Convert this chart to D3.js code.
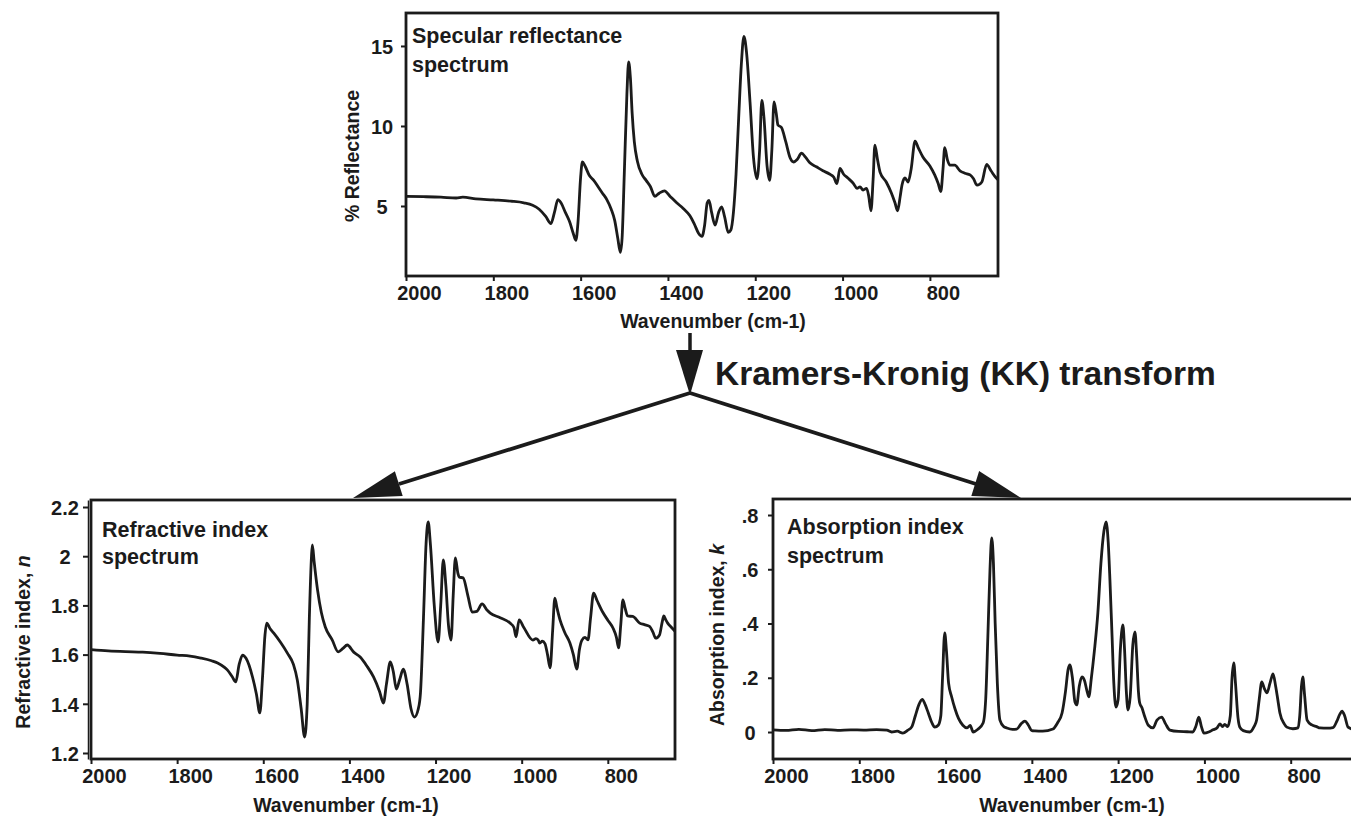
<!DOCTYPE html>
<html>
<head>
<meta charset="utf-8">
<script src="https://cdn.jsdelivr.net/npm/d3@7"></script>
<style>
  body { margin: 0; background: #fff; }
  svg { display: block; font-family: "Liberation Sans", Arial, Helvetica, sans-serif; font-weight: bold; }
</style>
</head>
<body>
<svg id="fig" width="1351" height="818"></svg>
<script>
// Wavenumber ticks shared by the three spectra (cm-1)
const wavenumberTicks = [2000, 1800, 1600, 1400, 1200, 1000, 800];
const reflectanceTicks = [5, 10, 15];
const refractiveTicks = [1.2, 1.4, 1.6, 1.8, 2, 2.2];
const absorptionTicks = [0, 0.2, 0.4, 0.6, 0.8];

// Specular reflectance spectrum: [wavenumber, % reflectance]
const reflectance = [
  [2000,5.6],[1960,5.58],[1920,5.55],[1885,5.5],[1870,5.55],[1840,5.45],[1800,5.38],[1760,5.3],
  [1730,5.2],[1710,5.05],[1695,4.8],[1680,4.35],[1668,3.9],[1660,4.6],[1652,5.4],[1645,5.2],
  [1635,4.6],[1625,4.0],[1617,3.3],[1611,2.85],[1606,4.0],[1600,6.8],[1596,7.75],[1590,7.5],
  [1580,6.9],[1570,6.6],[1560,6.2],[1550,5.8],[1540,5.4],[1530,4.8],[1522,4.1],[1515,3.0],
  [1509,2.1],[1505,3.0],[1500,7.0],[1494,12.0],[1490,14.0],[1486,13.0],[1482,10.8],[1477,9.0],
  [1470,7.8],[1460,7.0],[1450,6.6],[1440,6.2],[1430,5.6],[1420,5.8],[1408,5.95],[1395,5.6],
  [1380,5.2],[1365,4.85],[1350,4.4],[1340,3.9],[1330,3.3],[1322,3.1],[1316,3.8],[1310,5.2],
  [1306,5.35],[1300,4.6],[1292,3.8],[1284,4.6],[1277,4.95],[1270,4.3],[1262,3.35],[1256,3.5],
  [1250,4.6],[1244,7.0],[1238,10.5],[1232,13.8],[1226,15.6],[1220,14.6],[1212,11.5],[1204,8.0],
  [1196,6.7],[1190,8.5],[1185,11.6],[1180,10.5],[1173,7.5],[1167,6.6],[1162,8.5],[1157,11.5],
  [1152,10.8],[1148,10.06],[1140,9.9],[1130,9.0],[1120,8.0],[1112,7.75],[1104,7.9],[1094,8.3],
  [1085,8.05],[1075,7.7],[1060,7.45],[1045,7.2],[1030,7.0],[1020,6.8],[1013,6.4],[1006,7.35],
  [998,7.0],[988,6.75],[975,6.4],[967,6.1],[960,6.2],[953,6.0],[945,6.1],[940,5.6],[935,4.7],
  [930,6.7],[926,8.8],[920,7.9],[914,7.1],[900,6.5],[888,5.8],[880,5.2],[874,4.7],[868,5.6],
  [864,6.3],[857,6.75],[850,6.5],[843,7.3],[834,9.05],[826,8.6],[816,8.06],[800,7.5],[789,6.94],
  [781,6.4],[775,5.9],[770,7.3],[766,8.65],[760,7.9],[754,7.55],[743,7.55],[731,7.2],[720,7.05],
  [708,6.94],[700,6.7],[692,6.3],[681,6.5],[670,7.6],[660,7.2],[648,6.75],[644,6.65]
];

// Refractive index spectrum: [wavenumber, n]
const refractive = [
  [2000,1.62],[1960,1.615],[1920,1.612],[1880,1.61],[1840,1.605],[1800,1.598],[1770,1.594],
  [1745,1.586],[1720,1.575],[1706,1.566],[1690,1.548],[1683,1.537],[1672,1.51],[1664,1.489],
  [1656,1.56],[1648,1.598],[1640,1.585],[1625,1.509],[1616,1.44],[1608,1.363],[1602,1.5],
  [1596,1.68],[1592,1.728],[1584,1.705],[1576,1.688],[1560,1.65],[1544,1.606],[1530,1.56],
  [1521,1.497],[1512,1.38],[1504,1.265],[1498,1.4],[1493,1.75],[1488,2.0],[1486,2.046],
  [1482,1.98],[1474,1.863],[1465,1.77],[1456,1.712],[1440,1.66],[1426,1.611],[1415,1.625],
  [1405,1.639],[1390,1.61],[1375,1.59],[1360,1.555],[1344,1.509],[1330,1.45],[1321,1.403],
  [1314,1.48],[1305,1.57],[1298,1.53],[1291,1.46],[1283,1.5],[1275,1.541],[1266,1.48],
  [1257,1.38],[1249,1.346],[1240,1.38],[1235,1.444],[1228,1.75],[1222,2.05],[1217,2.139],
  [1212,2.05],[1203,1.8],[1194,1.651],[1188,1.8],[1182,1.985],[1176,1.88],[1170,1.72],
  [1164,1.659],[1159,1.84],[1154,1.993],[1148,1.93],[1145,1.915],[1136,1.912],[1125,1.84],
  [1115,1.773],[1104,1.776],[1092,1.806],[1080,1.78],[1073,1.769],[1050,1.75],[1027,1.728],
  [1018,1.71],[1013,1.672],[1006,1.741],[995,1.71],[974,1.659],[967,1.665],[962,1.66],
  [958,1.647],[952,1.655],[946,1.645],[940,1.6],[934,1.546],[928,1.7],[923,1.83],[918,1.79],
  [911,1.741],[900,1.69],[888,1.647],[880,1.6],[872,1.541],[866,1.62],[860,1.659],[853,1.67],
  [846,1.66],[840,1.75],[833,1.85],[825,1.82],[812,1.773],[800,1.74],[788,1.708],[780,1.67],
  [775,1.627],[770,1.72],[765,1.822],[760,1.79],[754,1.757],[742,1.755],[726,1.728],[715,1.722],
  [703,1.715],[695,1.69],[689,1.667],[680,1.68],[674,1.73],[670,1.757],[665,1.74],[661,1.728],
  [652,1.71],[644,1.695]
];

// Absorption index spectrum: [wavenumber, k]
const absorption = [
  [2000,0.008],[1970,0.006],[1940,0.01],[1910,0.005],[1880,0.009],[1850,0.006],[1820,0.008],
  [1790,0.007],[1760,0.009],[1736,0.007],[1725,0.0],[1712,0.003],[1699,-0.004],[1688,0.006],
  [1678,0.02],[1670,0.06],[1662,0.1],[1654,0.12],[1647,0.1],[1640,0.07],[1632,0.035],
  [1625,0.018],[1617,0.025],[1611,0.06],[1607,0.2],[1602,0.365],[1598,0.3],[1593,0.18],
  [1586,0.13],[1578,0.085],[1570,0.05],[1560,0.025],[1550,0.015],[1543,0.024],[1536,0.0],
  [1525,0.01],[1513,0.033],[1507,0.12],[1502,0.35],[1497,0.6],[1493,0.716],[1489,0.62],
  [1485,0.4],[1480,0.18],[1474,0.044],[1465,0.02],[1458,0.015],[1445,0.01],[1435,0.011],
  [1425,0.03],[1416,0.04],[1408,0.025],[1400,0.005],[1393,0.004],[1375,0.003],[1351,0.011],
  [1340,0.035],[1330,0.07],[1322,0.15],[1316,0.23],[1312,0.247],[1306,0.2],[1300,0.11],
  [1296,0.1],[1290,0.17],[1284,0.203],[1278,0.19],[1272,0.15],[1268,0.13],[1262,0.2],
  [1255,0.3],[1247,0.439],[1240,0.62],[1233,0.74],[1228,0.775],[1223,0.7],[1219,0.56],
  [1214,0.35],[1210,0.18],[1205,0.092],[1200,0.12],[1195,0.3],[1189,0.395],[1185,0.3],
  [1181,0.15],[1177,0.081],[1172,0.13],[1166,0.32],[1161,0.369],[1157,0.28],[1153,0.15],
  [1150,0.107],[1145,0.09],[1138,0.055],[1130,0.025],[1119,0.015],[1110,0.044],[1099,0.055],
  [1090,0.03],[1080,0.007],[1060,0.002],[1040,0.001],[1027,0.0],[1020,0.02],[1013,0.055],
  [1007,0.02],[1001,-0.004],[990,0.0],[980,0.008],[971,0.015],[964,0.03],[958,0.02],
  [953,0.028],[946,0.02],[940,0.06],[936,0.2],[932,0.255],[928,0.18],[922,0.05],[918,0.018],
  [910,0.005],[895,0.0],[885,0.02],[879,0.044],[873,0.12],[867,0.185],[861,0.16],[855,0.144],
  [848,0.18],[841,0.214],[835,0.17],[829,0.11],[825,0.07],[815,0.03],[809,0.018],[795,0.012],
  [783,0.015],[779,0.06],[775,0.17],[772,0.203],[768,0.14],[762,0.044],[751,0.026],[740,0.02],
  [732,0.015],[715,0.014],[702,0.016],[693,0.04],[686,0.066],[681,0.077],[675,0.06],
  [667,0.018],[655,0.01],[644,0.008]
];

const INK = "#1b1b1b";
const svg = d3.select("#fig");

const fmtK = d => d === 0 ? "0" : d3.format(".1f")(d).replace(/^0/, "");

const panels = [
  {
    data: reflectance, box: {x: 406, y: 13, w: 592, h: 263},
    yDomain: [0.625, 17.06], yTicks: reflectanceTicks, yFmt: d => String(d),
    yAxisShift: 0, yLabelX: -24,
    title: ["Specular reflectance", "spectrum"], titleX: 412, titleY: [43, 72],
    xLabel: {x: 713, y: 328}, yLabel: {x: 352, y: 156, parts: [["% Reflectance", false]]}
  },
  {
    data: refractive, box: {x: 91, y: 500, w: 584, h: 259},
    yDomain: [1.1756, 2.2285], yTicks: refractiveTicks, yFmt: d => String(d),
    yAxisShift: -3, yLabelX: -26,
    title: ["Refractive index", "spectrum"], titleX: 102, titleY: [537, 564],
    xLabel: {x: 346, y: 812}, yLabel: {x: 23, y: 642, parts: [["Refractive index, ", false], ["n", true]]}
  },
  {
    data: absorption, box: {x: 773, y: 499, w: 585, h: 260},
    yDomain: [-0.0995, 0.859], yTicks: absorptionTicks, yFmt: fmtK,
    yAxisShift: 0, yLabelX: -23,
    title: ["Absorption index", "spectrum"], titleX: 787, titleY: [534, 563],
    xLabel: {x: 1072, y: 812}, yLabel: {x: 717, y: 635, parts: [["Absorption index, ", false], ["k", true]]}
  }
];

panels.forEach(p => {
  const b = p.box;
  const x = d3.scaleLinear().domain([2000, 644]).range([b.x, b.x + b.w]);
  const y = d3.scaleLinear().domain(p.yDomain).range([b.y + b.h, b.y]);
  const g = svg.append("g");

  // spectrum trace
  g.append("path")
    .datum(p.data)
    .attr("fill", "none")
    .attr("stroke", INK)
    .attr("stroke-width", 2.8)
    .attr("stroke-linejoin", "round")
    .attr("d", d3.line().x(d => x(d[0])).y(d => y(d[1])).curve(d3.curveMonotoneX));

  // bottom axis
  const xa = g.append("g")
    .attr("transform", `translate(0,${b.y + b.h})`)
    .call(d3.axisBottom(x).tickValues(wavenumberTicks).tickSize(5).tickSizeOuter(0).tickFormat(d3.format("d")));
  xa.select(".domain").remove();
  xa.selectAll(".tick line").attr("stroke", INK).attr("stroke-width", 2);
  xa.selectAll(".tick text")
    .attr("fill", INK).attr("font-size", 20).attr("font-family", null)
    .attr("y", 24).attr("dy", 0).attr("dx", 13);

  // left axis
  const ya = g.append("g")
    .attr("transform", `translate(${b.x + p.yAxisShift},0)`)
    .call(d3.axisLeft(y).tickValues(p.yTicks).tickSize(5).tickSizeOuter(0).tickFormat(p.yFmt));
  ya.select(".domain").attr("stroke", INK).attr("stroke-width", p.yAxisShift ? 1.5 : 0);
  ya.selectAll(".tick line").attr("stroke", INK).attr("stroke-width", 2);
  ya.selectAll(".tick text")
    .attr("fill", INK).attr("font-size", 20).attr("font-family", null)
    .attr("text-anchor", "middle").attr("x", p.yLabelX - p.yAxisShift).attr("dy", "0.36em");

  // plot frame
  g.append("rect")
    .attr("x", b.x).attr("y", b.y).attr("width", b.w).attr("height", b.h)
    .attr("fill", "none").attr("stroke", INK).attr("stroke-width", 2.8);

  // panel title
  p.title.forEach((t, i) => {
    g.append("text").attr("x", p.titleX).attr("y", p.titleY[i])
      .attr("font-size", 21.5).attr("fill", INK).text(t);
  });

  // axis titles
  g.append("text").attr("x", p.xLabel.x).attr("y", p.xLabel.y)
    .attr("text-anchor", "middle").attr("font-size", 19.5).attr("fill", INK)
    .text("Wavenumber (cm-1)");

  const yl = g.append("text")
    .attr("transform", `translate(${p.yLabel.x},${p.yLabel.y}) rotate(-90)`)
    .attr("text-anchor", "middle").attr("dy", "0.36em")
    .attr("font-size", 19.5).attr("fill", INK);
  p.yLabel.parts.forEach(([t, it]) => {
    yl.append("tspan").attr("font-style", it ? "italic" : null).text(t);
  });
});

// Kramers-Kronig transform arrows
const arrows = svg.append("g").attr("fill", INK).attr("stroke", INK);
arrows.append("line").attr("x1", 690).attr("y1", 333).attr("x2", 690).attr("y2", 352).attr("stroke-width", 3.5);
arrows.append("path").attr("stroke", "none").attr("d", "M676,350 L703,350 L690,395 Z");
arrows.append("line").attr("x1", 690).attr("y1", 393).attr("x2", 399).attr("y2", 484).attr("stroke-width", 3.8);
arrows.append("line").attr("x1", 690).attr("y1", 393).attr("x2", 976).attr("y2", 484).attr("stroke-width", 3.8);
arrows.append("path").attr("stroke", "none").attr("d", "M353,498 L402.7,496.1 L394.9,471.3 Z");
arrows.append("path").attr("stroke", "none").attr("d", "M1021,498 L971.3,495.9 L979.1,471.1 Z");

svg.append("text").attr("x", 715).attr("y", 385)
  .attr("font-size", 33.5).attr("fill", INK)
  .text("Kramers-Kronig (KK) transform");
</script>
</body>
</html>
